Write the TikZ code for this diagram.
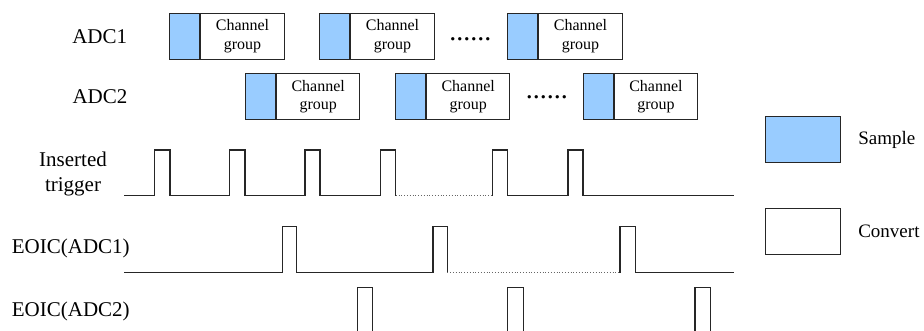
\documentclass[tikz,border=0pt]{standalone}
\usepackage{fontspec}
\setmainfont{Liberation Serif}
\usetikzlibrary{positioning}
\definecolor{sampleblue}{HTML}{99CCFF}
\tikzset{
  sample/.style={draw=black!85, fill=sampleblue, line width=0.5pt, minimum width=15pt, minimum height=23pt, inner sep=0pt, anchor=north west},
  convert/.style={draw=black!85, fill=white, line width=0.5pt, minimum width=41.7pt, minimum height=23pt, inner sep=0pt, anchor=west, align=center, font=\fontsize{8}{9.3}\selectfont},
  rowlabel/.style={inner sep=0pt, align=center, font=\fontsize{10.5}{12.5}\selectfont},
  keytext/.style={inner sep=0pt, font=\fontsize{9.5}{11}\selectfont},
  moredots/.style={inner sep=0pt, anchor=base west, font=\fontsize{14}{14}\selectfont},
  sig/.style={line width=0.6pt, black!85},
  dotgap/.style={densely dotted, line width=0.4pt, black!60}
}
\begin{document}
\begin{tikzpicture}[x=0.5pt, y=-0.5pt]
        \useasboundingbox (0,0) rectangle (924,331);

        % Row labels
        \node[rowlabel] (adc1) at (99.7,37) {ADC1};
        \node[rowlabel] (adc2) at (100,97) {ADC2};
        \node[rowlabel] (trig) at (73,174) {Inserted\\trigger};
        \node[rowlabel] (eoic1) at (70.8,248) {EOIC(ADC1)};
        \node[rowlabel] (eoic2) at (70.8,311.7) {EOIC(ADC2)};

        % ADC1 channel groups
        \foreach \n/\x in {1/169.3, 2/319.3, 3/507.3} {
            \node[sample] (sa\n) at (\x,12.7) {};
            \node[convert] (ca\n) at (sa\n.east) {Channel\\group};
        }
        \node[moredots] (dotsa) at (449,40.5) {......};

        % ADC2 channel groups
        \foreach \n/\x in {1/245, 2/395, 3/582.7} {
            \node[sample] (sb\n) at (\x,73.3) {};
            \node[convert] (cb\n) at (sb\n.east) {Channel\\group};
        }
        \node[moredots] (dotsb) at (525.5,98.5) {......};

        % Inserted trigger
        \draw[sig] (124,195.7) -| (154.4,150) -| (170,195.7) -| (229.4,150) -| (245,195.7)
            -| (305,150) -| (320,195.7) -| (380.4,150) -| (395.7,195.7);
        \draw[dotgap] (395.7,195.7) -- (492.4,195.7);
        \draw[sig] (492.4,195.7) -- (492.4,150) -| (507.6,195.7) -| (568,150) -| (583,195.7) -- (734,195.7);

        % EOIC(ADC1)
        \draw[sig] (124,272.5) -| (282.4,226.7) -| (296.7,272.5) -| (433,226.7) -| (447.3,272.5);
        \draw[dotgap] (447.3,272.5) -- (620,272.5);
        \draw[sig] (620,272.5) -- (620,226.7) -| (635.3,272.5) -- (734,272.5);

        % EOIC(ADC2)
        \foreach \x in {357.3, 507.7, 695}
            \draw[sig] (\x,331) |- ({\x+15.4},287.7) -- ({\x+15.4},331);

        % Legend
        \node[sample, minimum width=37.8pt] (keys) at (764.7,116) {};
        \node[keytext, right=8.3pt of keys] (keyst) {Sample};
        \node[convert, anchor=north west, minimum width=37.8pt] (keyc) at (764.7,207.7) {};
        \node[keytext, right=8.3pt of keyc] (keyct) {Convert};
    \end{tikzpicture}
\end{document}
